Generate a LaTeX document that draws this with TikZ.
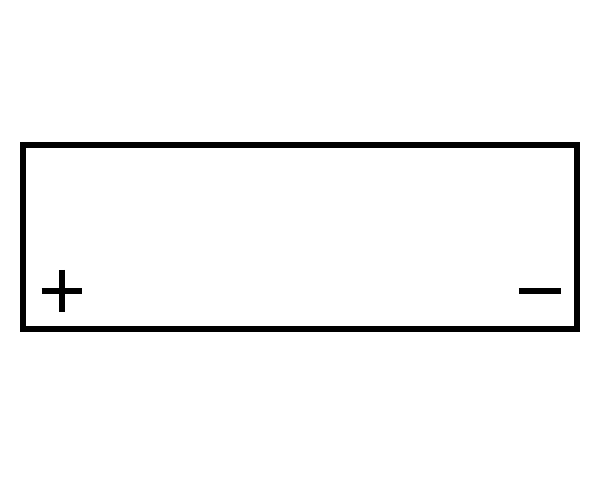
\documentclass[tikz,border=0pt]{standalone}
\usetikzlibrary{positioning}

\begin{document}
\begin{tikzpicture}[x=0.02cm, y=-0.02cm,
    cell/.style={draw, line width=0.12cm, minimum width=11.08cm, minimum height=3.68cm, inner sep=0pt},
    sign/.style={line width=0.12cm}]
    \useasboundingbox (0,0) rectangle (600,480);

    %Nodes
    \node[cell] at (300,236.6) (battery) {};
    \coordinate (pl) at (41.7,290.7);
    \coordinate (pr) at (81.7,290.7);
    \coordinate (pt) at (61.7,270);
    \coordinate (pb) at (61.7,311.7);
    \coordinate (ml) at (519,290.7);
    \coordinate (mr) at (560.7,290.7);

    %Lines
    \draw[sign] (pl) -- (pr);
    \draw[sign] (pt) -- (pb);
    \draw[sign] (ml) -- (mr);
\end{tikzpicture}
\end{document}
